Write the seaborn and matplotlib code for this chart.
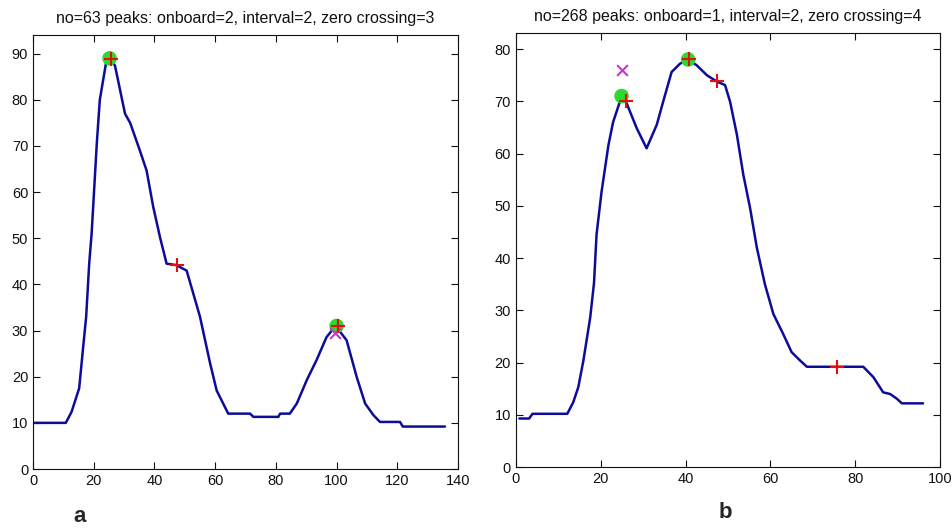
import numpy as np
import pandas as pd
import seaborn as sns
import matplotlib.pyplot as plt

# panel a (no=63)
a_x = [0, 10.8, 12.7, 15.2, 16.2, 17.5, 18.5, 19.3, 21, 22, 24, 25.1, 27, 30.3, 32, 35.2,
       37.4, 39.6, 41.8, 44, 47.1, 50.6, 55, 58.3, 60.5, 64.3, 71.5, 72.6, 80.8, 81.4, 84.6,
       86.9, 90.2, 93.4, 96.7, 99.7, 103.3, 106.6, 109.4, 112.1, 114.3, 120.9, 121.8, 135.7]
a_y = [10, 10, 12.4, 17.5, 24.3, 33, 44.5, 51, 70.5, 80, 87.8, 89, 87.4, 77, 75, 69,
       64.7, 56.8, 50.3, 44.5, 44.2, 43, 33, 23, 17, 12, 12, 11.3, 11.3, 12, 12,
       14.2, 19.3, 23.6, 28.6, 31, 27.9, 20, 14.2, 11.7, 10.2, 10.2, 9.2, 9.2]
a_circ_x, a_circ_y = [25.2, 100], [89, 31]
a_plus_x, a_plus_y = [25.6, 47.5, 100.6], [88.8, 44.3, 31]
a_cross_x, a_cross_y = [99.6], [29.5]

# panel b (no=268)
b_x = [0.8, 3.1, 3.9, 12.1, 13.5, 14.7, 15.9, 17.5, 18.4, 19, 20.2, 21.8, 22.9, 24.9, 26.1,
       28.5, 30.8, 33.2, 34.7, 36.7, 38.7, 40.6, 42.6, 45, 47.3, 49.3, 50.5, 52.1, 53.6,
       55.2, 56.8, 58.7, 60.7, 63, 65, 67, 68.6, 81.9, 84.3, 86.6, 88.2, 89.8, 91, 96]
b_y = [9.3, 9.3, 10.2, 10.2, 12.4, 15.3, 20.4, 28.6, 35.2, 44.5, 52.8, 61.6, 66, 70.9, 69.6,
       64.8, 61, 65.5, 69.9, 75.6, 77.2, 78, 76.9, 75, 73.8, 73.1, 69.9, 63.6, 56,
       49.6, 42, 35, 29.3, 25.5, 22, 20.4, 19.2, 19.2, 17.2, 14.3, 14, 13.1, 12.2, 12.2]
b_circ_x, b_circ_y = [24.9, 40.6], [71, 78]
b_plus_x, b_plus_y = [26, 40.7, 47.3, 75.8], [70, 78, 73.9, 19.1]
b_cross_x, b_cross_y = [24.9], [76]

titles = ["no=63 peaks: onboard=2, interval=2, zero crossing=3",
          "no=268 peaks: onboard=1, interval=2, zero crossing=4"]

sns.set_style("ticks")
plt.rcParams['font.family'] = ['Liberation Sans', 'DejaVu Sans']

fig = plt.figure(figsize=(9.52, 5.29), dpi=100)
ax1 = fig.add_axes([0.0347, 0.1134, 0.4464, 0.820])
ax2 = fig.add_axes([0.542, 0.117, 0.4454, 0.820])

panels = [
    (ax1, a_x, a_y, a_circ_x, a_circ_y, a_plus_x, a_plus_y, a_cross_x, a_cross_y,
     (0, 140), np.arange(0, 141, 20), (0, 94), np.arange(0, 91, 10)),
    (ax2, b_x, b_y, b_circ_x, b_circ_y, b_plus_x, b_plus_y, b_cross_x, b_cross_y,
     (0, 100), np.arange(0, 101, 20), (0, 83), np.arange(0, 81, 10)),
]

for i, (ax, x, y, cx, cy, px, py, xx, xy, xlim, xt, ylim, yt) in enumerate(panels):
    df = pd.DataFrame({"x": x, "y": y})
    sns.lineplot(data=df, x="x", y="y", ax=ax, color="#0c0c9a", linewidth=1.8)
    ax.scatter(cx, cy, s=110, color="#2ed82e", zorder=3, edgecolors="none")
    ax.scatter(xx, xy, s=60, marker="x", color="#d030d0", linewidths=1.5, zorder=4)
    ax.scatter(px, py, s=90, marker="+", color="#e01010", linewidths=1.5, zorder=5)
    ax.set_xlim(*xlim)
    ax.set_ylim(*ylim)
    ax.set_xticks(xt)
    ax.set_yticks(yt)
    ax.set_xlabel("")
    ax.set_ylabel("")
    ax.set_title(titles[i], fontsize=11.5, pad=9, color="#111111")
    ax.tick_params(direction="in", top=True, right=True, labelsize=10.5, length=5,
                   width=0.8, colors="#111111")
    for s in ax.spines.values():
        s.set_visible(True)
        s.set_linewidth(0.8)
        s.set_color("#111111")

fig.text(80 / 952, 1 - 517 / 529, "a", fontsize=16, fontweight="bold", ha="center", va="center")
fig.text(725 / 952, 1 - 512 / 529, "b", fontsize=16, fontweight="bold", ha="center", va="center")

fig.savefig("out.png", dpi=100, facecolor="white")
